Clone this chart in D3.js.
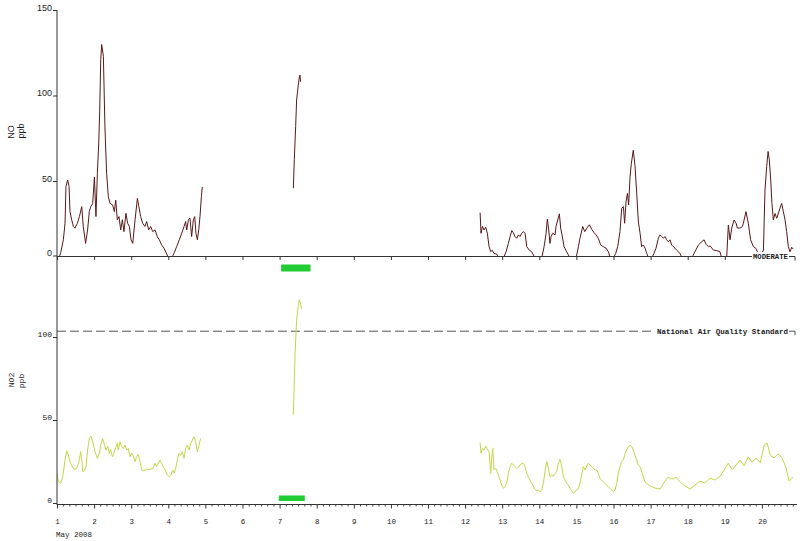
<!DOCTYPE html>
<html><head><meta charset="utf-8">
<script src="https://cdn.jsdelivr.net/npm/d3@7"></script>
<style>body{margin:0;background:#fff}svg{display:block;background:#fff}</style>
</head><body><svg id="c" width="800" height="541"></svg>
<script>
// ---------- DATA (hours since May 1 2008 00:00, ppb) ----------
const dayLabels = d3.range(1, 21);
const monthLabel = "May 2008";
const noAxisTicks = [0, 50, 100, 150];
const no2AxisTicks = [0, 50, 100];
const moderateLabel = "MODERATE";
const standardLabel = "National Air Quality Standard";
const no2Standard = 103.5;
const noFlagHours = [145, 164];
const no2FlagHours = [143.5, 160.3];

const noSeg1 = [[0,3],[0.9,4],[2.4,8.1],[4.1,15.6],[5.2,25.3],[5.8,46.8],[6.9,50.6],[7.8,46.8],[8.4,32.1],[9.5,27.3],[10.6,23.4],[11.6,22.4],[13.2,25.3],[14.5,29.2],[16,35],[17,23.4],[18.5,13.5],[19.8,21.4],[20.9,32.1],[21.8,35],[23.1,36.9],[24.2,52.3],[25.2,29.2],[26.1,54.2],[27,72.2],[27.6,89.8],[28.3,121],[28.9,129.8],[30,122.9],[31,82],[32.1,54.6],[33.2,40.9],[34.3,36.9],[36,36],[37.1,32.1],[38,38.8],[39,27.3],[40.1,29.2],[41.2,21.4],[42.3,27.3],[43.3,20.4],[44.6,31.1],[45.7,25.3],[46.8,23.4],[47.9,15.6],[49,13.5],[50.5,27.3],[52,39.8],[53,35],[54.1,29.2],[55.4,25.3],[56.9,23.4],[58,26.3],[59.3,21.4],[60.6,23.4],[61.9,20.4],[63.4,21.4],[64.9,17.5],[66.2,15.6],[67.7,12.6],[69.2,10.7],[71,7.3],[72.6,4],[74.2,5],[75.9,8.1],[77.4,11.6],[79.1,15.6],[80.7,19.4],[82.2,23.4],[83.2,26.3],[83.9,21.4],[85,27.3],[86,28.3],[87.1,17.5],[88.2,27.3],[89.1,29.2],[89.9,19.4],[90.8,15.6],[91.7,21.4],[92.5,29.2],[93.4,40.8],[94,46.5]];
const noSeg2 = [[152.9,45.8],[153.5,62.4],[154.4,82],[155,97.4],[156.1,106.1],[156.8,110.9],[157.2,111.9],[157.6,108]];
const noSeg3 = [[273.7,31.5],[274.3,19.4],[275.2,23.4],[276.3,21.4],[277.3,23],[278.4,19.4],[279.5,11.6],[280.6,8.6],[281.6,9.5],[282.7,7.6],[284.4,7.3],[286.6,4],[288.8,5],[290.5,8.6],[292,13.5],[293.1,17.5],[294.2,21],[295.2,19.8],[296.3,17.5],[297.4,16.5],[298.5,18.5],[299.5,17.5],[300.6,19.4],[301.7,20.4],[302.8,19.4],[303.9,11.6],[305.6,9.5],[307.1,8.6],[309.2,5],[311.4,3],[313.6,5],[315.1,11.6],[316.4,19.4],[317.2,27.7],[318.1,21.4],[318.9,13.5],[319.6,17.5],[320.7,19.4],[322.2,18.5],[322.8,23.4],[325,30.8],[325.8,22.5],[326.7,18.5],[328,11.6],[329.7,8.6],[331.9,5],[334,3],[335.8,5],[337.3,11.6],[338.3,16.5],[340.1,23.4],[341.4,20.4],[342.7,22.4],[344.4,24.4],[345.9,21.8],[347.4,19.8],[348.7,18.5],[350.2,16.5],[351.7,12.6],[353.4,11.6],[355.2,10.7],[356.7,8.6],[358.2,4],[359.9,5],[361.4,7.6],[362.7,11.6],[364.2,20.4],[365.3,34],[366.4,35],[367.2,25.3],[368.1,37.8],[369,42.7],[369.8,36],[370.7,52.3],[371.5,60],[372.8,68],[373.9,59],[375,43],[376.1,26],[377.2,19.4],[378.2,11.6],[379.3,12.6],[380.4,10.7],[381.5,7.7],[382.6,5],[384.7,5],[386.2,7.7],[387.5,10.7],[389,16.5],[390.1,18.5],[391.2,17.5],[392.3,16.5],[393.3,17.5],[394.4,15.6],[395.5,14.5],[396.6,15.6],[397.6,12.6],[398.7,11.6],[399.8,10.7],[400.9,9.5],[403,7.7],[405.2,3],[407,2],[409,2],[410.6,5],[412.7,8.6],[414.9,12.6],[417.1,14.5],[418.6,15.6],[419.9,13],[421.4,11.6],[422.5,12.1],[424.6,9.6],[426.8,9.3],[428.9,8.6],[430,5],[433.2,5],[434.3,24.3],[435.4,15.6],[436.5,22.5],[438,27.2],[439.3,25.3],[440.1,22.5],[441.9,22.5],[443.4,23.4],[444,25.3],[445.7,32.1],[447.2,25.3],[448.7,15.6],[450.5,11.6],[452,10.7],[453.1,8.6],[454.8,7.7],[456,7.7],[457,9.7],[458,44.8],[459.1,58.5],[460,67.3],[460.8,62.4],[461.7,50.6],[462.5,36.9],[463.4,27.2],[464.5,31],[465.6,28.2],[467.3,33],[468.8,36.9],[469.9,32],[471,27.2],[472,20.4],[473.1,11.6],[474.2,8.6],[475.3,11.2],[476.3,10.2]];

const no2Seg1 = [[0,17.9],[0.9,12.8],[2.4,11.8],[3.7,15.8],[5.2,25.9],[6.3,31.5],[7.3,28.9],[8.4,24.8],[9.9,21.8],[11.6,19.9],[13.2,21.8],[14.5,26.3],[15.3,30.9],[16.2,25],[16.6,18.8],[17.7,19.5],[18.8,21.8],[19.8,31.9],[20.9,38.9],[22,40.3],[23.1,36.9],[24.6,30.9],[26.1,26.9],[27.4,29.9],[28.5,35.9],[29.5,38.9],[30.6,35.3],[31.7,31.9],[32.8,34.3],[33.9,29.9],[34.7,32.3],[35.8,27.9],[36.9,29.9],[38,33.3],[39,35.9],[39.7,31.9],[40.7,36.9],[41.8,33.9],[42.9,32.9],[44,34.9],[45.1,31.9],[46.1,32.9],[47.2,27.9],[48.3,29.9],[49.4,28.3],[50.5,24.9],[51.5,27.9],[52.6,29.3],[53.7,24.9],[54.8,19.9],[55.8,19.3],[58,20.3],[60.2,20.3],[62.3,20.9],[63.4,23.9],[64.5,21.9],[65.6,23.9],[66.6,25.9],[67.7,23.9],[68.8,21.9],[69.9,19.9],[71.4,16.8],[72.7,15.8],[73.7,16.8],[74.8,19.9],[75.9,17.9],[77,21.8],[77.8,25.9],[78.9,29.9],[80,28.9],[81.1,30.9],[82.2,26.9],[83.2,32.9],[84.3,34.9],[85.4,31.9],[86.5,35.9],[87.6,37.9],[88.6,39.9],[89.7,36.9],[90.8,30.9],[91.9,34.9],[92.9,38.9]];
const no2Seg2 = [[152.9,53],[153.5,74],[154.2,94],[155,110],[156.1,119],[156.7,122.5],[157.6,120],[158.2,117]];
const no2Seg3 = [[273.7,36.3],[274.3,29.9],[275.2,32.9],[276.3,32],[277.3,34.3],[278.4,32.5],[279.5,30.9],[280.6,17.9],[281.2,26.9],[281.9,32.9],[282.7,19.9],[283.6,20.9],[284.4,19.9],[285.5,16.8],[286.6,13.8],[287.7,10.8],[288.8,8.8],[289.8,9.8],[290.9,11.8],[292,17.9],[293.1,21.9],[294.2,23.9],[295.2,22.9],[296.3,21.9],[297.4,20.9],[298.5,21.5],[299.5,22.9],[300.6,23.9],[301.7,23.9],[302.8,21.9],[303.9,17.9],[304.9,15.8],[306,13.8],[307.1,11.8],[308.2,10.2],[309.2,8.2],[310.3,7.4],[311.4,7.8],[312.5,6.8],[313.6,7.8],[314.6,11.8],[315.7,18.9],[316.8,24.9],[317.9,20.9],[318.9,15.8],[320,16.8],[321.1,16.2],[322.2,17.9],[323.3,18.9],[324.3,23.9],[325.4,26.3],[326.5,21.9],[327.6,15.8],[328.6,13.8],[329.7,11.8],[330.8,10.8],[331.9,8.8],[333,7.4],[334,5.8],[335.1,6.8],[336.2,7.8],[337.3,8.8],[338.3,11.8],[339.4,16.8],[340.5,21.9],[341.6,19.9],[342.7,22.3],[343.7,23.9],[344.8,22.9],[345.9,21.9],[347,20.9],[348.1,19.9],[349.1,19.9],[350.2,17.9],[351.3,14.8],[352.4,13.8],[353.4,12.8],[354.5,11.8],[355.6,10.8],[356.7,9.8],[357.8,8.8],[358.8,7.8],[359.9,6.8],[361,7.8],[362.1,11.8],[363.1,17.9],[364.2,21.9],[365.3,24.9],[366.4,25.9],[367.5,29.9],[368.5,31.9],[369.6,33.9],[370.7,34.9],[371.8,34],[372.8,31.9],[373.9,28.9],[375,25.9],[376.1,22.9],[377.2,21.9],[380.4,12.6],[383.7,10.2],[386.9,9],[390.2,8.4],[392.8,12.6],[395.4,15.6],[397.9,14.4],[400.5,15.6],[403.1,12.6],[406.3,10.2],[409.6,8.4],[412.8,10.8],[416,13.2],[419.3,12],[422.5,15],[425.7,13.8],[429,16.2],[431.6,19.9],[434.2,24],[436.8,19.9],[439.3,22.9],[441.9,25.9],[444.5,22.3],[447.1,27.7],[449.7,24.7],[452.3,27.1],[454.9,24.1],[457.5,34.9],[459.4,36.1],[461.4,28.9],[463.9,27.1],[466.5,29.5],[469.1,27.1],[471.7,21.1],[473.6,13.2],[476.2,15.6]];

// ---------- CHART ----------
const svg = d3.select("#c");
const x = d3.scaleLinear().domain([0, 480]).range([57, 57 + 20 * 37.1]);
const yTop = d3.scaleLinear().domain([0, 150]).range([266.5, 10]);
const yBot = d3.scaleLinear().domain([0, 100]).range([503, 337]);
const topBase = 256;
const mono = "'Liberation Mono', 'DejaVu Sans Mono', monospace";
const sans = "'Liberation Sans', Arial, sans-serif";
const textCol = "#1a1a1a";

const defs = svg.append("defs");
defs.append("clipPath").attr("id", "clipTop").append("rect")
  .attr("x", 57).attr("y", 0).attr("width", 743).attr("height", topBase);
defs.append("clipPath").attr("id", "clipBot").append("rect")
  .attr("x", 57).attr("y", 258).attr("width", 743).attr("height", yBot(0) - 258);

const dayHours = dayLabels.map(d => (d - 1) * 24);

// NO2 standard dashed line
svg.append("line")
  .attr("x1", 57).attr("x2", 655)
  .attr("y1", yBot(no2Standard)).attr("y2", yBot(no2Standard))
  .attr("stroke", "#555").attr("stroke-width", 1).attr("stroke-dasharray", "9,4");
svg.append("text").attr("x", 657).attr("y", yBot(no2Standard) + 2.8)
  .attr("font-family", mono).attr("font-size", 7.5).attr("font-weight", "bold").attr("fill", textCol)
  .attr("textLength", 131).attr("lengthAdjust", "spacingAndGlyphs")
  .text(standardLabel);
svg.append("path")
  .attr("d", `M789,${yBot(no2Standard)}H795V${yBot(no2Standard) + 4}`)
  .attr("fill", "none").attr("stroke", "#555");

// Green flag bars
svg.append("rect").attr("x", x(noFlagHours[0])).attr("width", x(noFlagHours[1]) - x(noFlagHours[0]))
  .attr("y", yTop(0) - 2).attr("height", 7).attr("fill", "#22cc33");
svg.append("rect").attr("x", x(no2FlagHours[0])).attr("width", x(no2FlagHours[1]) - x(no2FlagHours[0]))
  .attr("y", yBot(0) - 7.5).attr("height", 5.5).attr("fill", "#22cc33");

// Lines
const lineTop = d3.line().x(d => x(d[0])).y(d => yTop(d[1]));
const lineBot = d3.line().x(d => x(d[0])).y(d => yBot(d[1]));
const gTop = svg.append("g").attr("clip-path", "url(#clipTop)");
[noSeg1, noSeg2, noSeg3].forEach(s => gTop.append("path").datum(s)
  .attr("d", lineTop).attr("fill", "none").attr("stroke", "#5a1818").attr("stroke-width", 1));
const gBot = svg.append("g").attr("clip-path", "url(#clipBot)");
[no2Seg1, no2Seg2, no2Seg3].forEach(s => gBot.append("path").datum(s)
  .attr("d", lineBot).attr("fill", "none").attr("stroke", "#c6d548").attr("stroke-width", 1));

// Vertical axis line
svg.append("line").attr("x1", 57).attr("x2", 57).attr("y1", yTop(150)).attr("y2", yBot(0) + 2)
  .attr("stroke", "#333");

// Top y axis
const axTop = svg.append("g").attr("transform", "translate(57,0)")
  .call(d3.axisLeft(yTop).tickValues(noAxisTicks).tickSize(4).tickPadding(1));
axTop.select(".domain").remove();
axTop.selectAll(".tick").filter(d => yTop(d) > topBase)
  .attr("transform", `translate(0,${topBase})`);
axTop.selectAll("text").attr("font-family", sans).attr("font-size", 9).attr("fill", textCol).attr("dy", "0.05em");
axTop.selectAll("line").attr("stroke", "#333");

// Top x axis (MODERATE line)
const axTopX = svg.append("g").attr("transform", `translate(0,${topBase})`)
  .call(d3.axisBottom(x).tickValues(dayHours).tickSize(4).tickSizeOuter(0).tickFormat(""));
axTopX.select(".domain").remove();
axTopX.selectAll("line").attr("stroke", "#333");
svg.append("line").attr("x1", 57).attr("x2", 752).attr("y1", topBase + 0.5).attr("y2", topBase + 0.5).attr("stroke", "#333");
svg.append("rect").attr("x", 752).attr("y", topBase - 4).attr("width", 37).attr("height", 9).attr("fill", "#fff");
svg.append("text").attr("x", 753).attr("y", topBase + 3.2)
  .attr("font-family", mono).attr("font-size", 7.5).attr("font-weight", "bold").attr("fill", textCol)
  .attr("textLength", 35).attr("lengthAdjust", "spacingAndGlyphs").text(moderateLabel);
svg.append("path").attr("d", `M789,${topBase + 0.5}H795V${topBase + 4.5}`).attr("fill", "none").attr("stroke", "#333");

// Bottom y axis
const axBot = svg.append("g").attr("transform", "translate(57,0)")
  .call(d3.axisLeft(yBot).tickValues(no2AxisTicks).tickSize(4).tickPadding(1));
axBot.select(".domain").remove();
axBot.selectAll("text").attr("font-family", mono).attr("font-size", 8).attr("fill", textCol).attr("dy", "-0.1em");
axBot.selectAll("line").attr("stroke", "#333");

// Bottom x axis: minor (4h) + major (day) ticks
const minorHours = d3.range(0, 481, 4).filter(h => h % 24 !== 0 && x(h) <= 797);
const axMinor = svg.append("g").attr("transform", `translate(0,${yBot(0) + 1.5})`)
  .call(d3.axisBottom(x).tickValues(minorHours).tickSize(2).tickSizeOuter(0).tickFormat(""));
axMinor.select(".domain").remove();
axMinor.selectAll("line").attr("stroke", "#444");
const axBotX = svg.append("g").attr("transform", `translate(0,${yBot(0) + 1.5})`)
  .call(d3.axisBottom(x).tickValues(dayHours).tickSize(4).tickSizeOuter(0).tickPadding(10)
    .tickFormat((d, i) => dayLabels[i]));
axBotX.select(".domain").remove();
axBotX.selectAll("line").attr("stroke", "#333");
axBotX.selectAll("text").attr("font-family", mono).attr("font-size", 7.5).attr("fill", textCol);
svg.append("line").attr("x1", 57).attr("x2", 797).attr("y1", yBot(0) + 1.5).attr("y2", yBot(0) + 1.5).attr("stroke", "#333");

svg.append("text").attr("x", 56).attr("y", 537).attr("font-family", mono).attr("font-size", 7.5)
  .attr("fill", textCol).text(monthLabel);

// Axis titles
function vtitle(cx, cy, txt, fam, size) {
  svg.append("text").attr("transform", `translate(${cx},${cy}) rotate(-90)`)
    .attr("text-anchor", "middle").attr("dy", "0.35em")
    .attr("font-family", fam).attr("font-size", size).attr("fill", textCol).text(txt);
}
vtitle(11, 132, "NO", sans, 9);
vtitle(21, 131, "ppb", sans, 9);
vtitle(11, 380, "NO2", mono, 8);
vtitle(21, 381, "ppb", mono, 8);
</script>
</body></html>
